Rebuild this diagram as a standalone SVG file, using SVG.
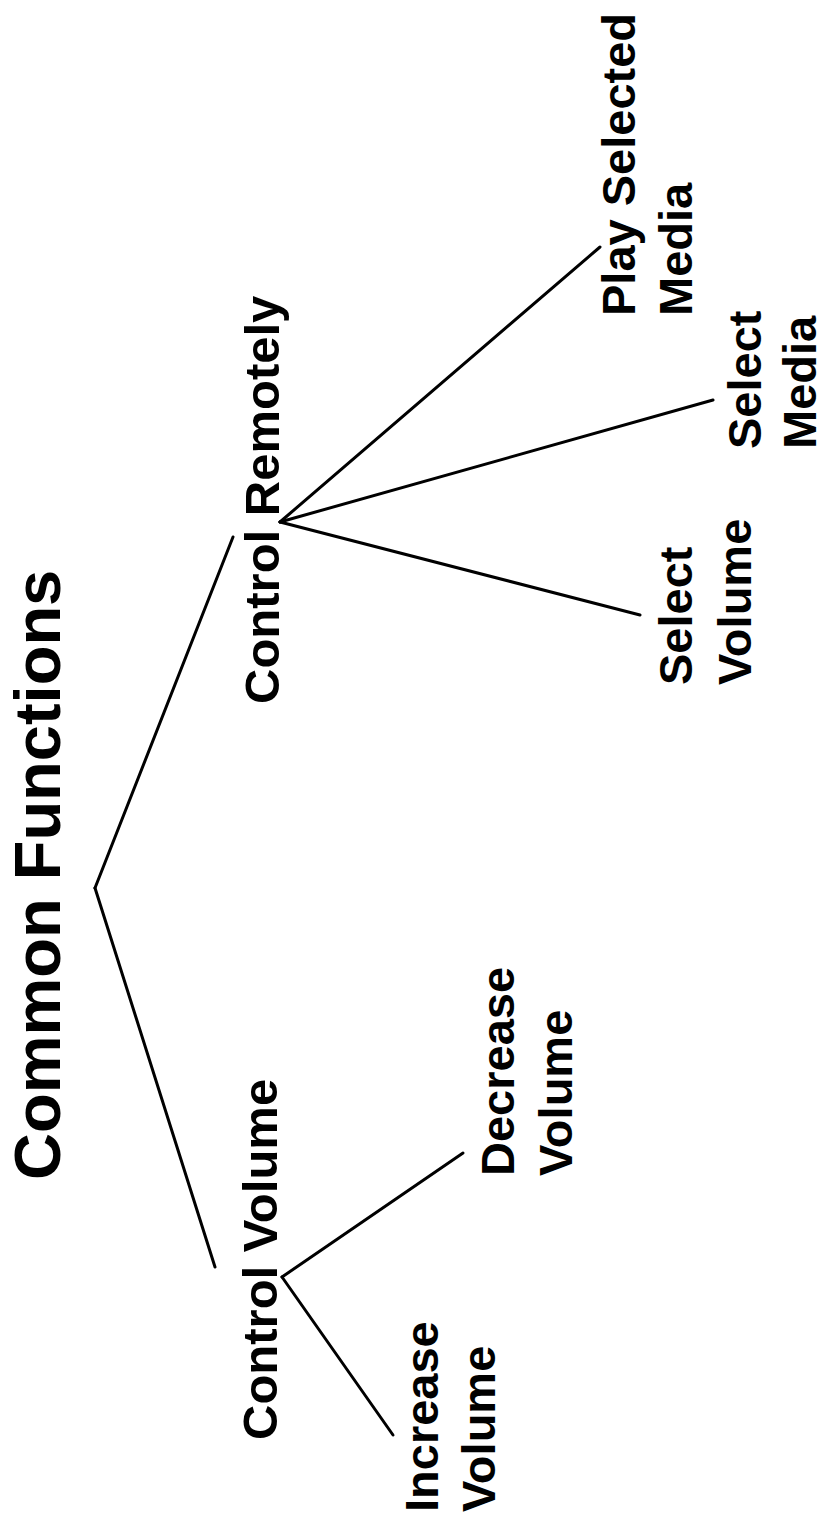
<svg xmlns="http://www.w3.org/2000/svg" width="824" height="1515" viewBox="0 0 824 1515">
<style>
  text { font-family: "Liberation Sans", Arial, sans-serif; font-weight: bold; fill: #000; }
  .title { font-size: 65px; }
  .mid { font-size: 49px; }
  .leaf { font-size: 47px; }
  .conn line { stroke: #000; stroke-width: 3; stroke-linecap: round; }
</style>
<rect width="824" height="1515" fill="#fff"/>
<g id="connectors" class="conn">
  <line x1="95" y1="888" x2="233" y2="537"/>
  <line x1="95" y1="888" x2="215" y2="1267"/>
  <line x1="280" y1="522" x2="600" y2="247"/>
  <line x1="280" y1="522" x2="713" y2="400"/>
  <line x1="280" y1="522" x2="640" y2="615"/>
  <line x1="282" y1="1277" x2="393" y2="1435"/>
  <line x1="282" y1="1277" x2="463" y2="1153"/>
</g>
<g id="node-common-functions">
  <text class="title" transform="translate(60,1180) rotate(-90)">Common Functions</text>
</g>
<g id="node-control-remotely">
  <text class="mid" transform="translate(279,704) rotate(-90)">Control Remotely</text>
</g>
<g id="node-control-volume">
  <text class="mid" transform="translate(277,1440) rotate(-90)">Control Volume</text>
</g>
<g id="node-play-selected-media">
  <text class="leaf" transform="translate(635,316) rotate(-90)"><tspan x="0" dy="0">Play Selected</tspan><tspan x="0" dy="57">Media</tspan></text>
</g>
<g id="node-select-media">
  <text class="leaf" transform="translate(761,449) rotate(-90)"><tspan x="0" dy="0">Select</tspan><tspan x="0" dy="55">Media</tspan></text>
</g>
<g id="node-select-volume">
  <text class="leaf" transform="translate(692,685) rotate(-90)"><tspan x="0" dy="0">Select</tspan><tspan x="0" dy="59">Volume</tspan></text>
</g>
<g id="node-decrease-volume">
  <text class="leaf" transform="translate(514,1176) rotate(-90)"><tspan x="0" dy="0">Decrease</tspan><tspan x="0" dy="58">Volume</tspan></text>
</g>
<g id="node-increase-volume">
  <text class="leaf" transform="translate(438,1512) rotate(-90)"><tspan x="0" dy="0">Increase</tspan><tspan x="0" dy="57">Volume</tspan></text>
</g>
</svg>
